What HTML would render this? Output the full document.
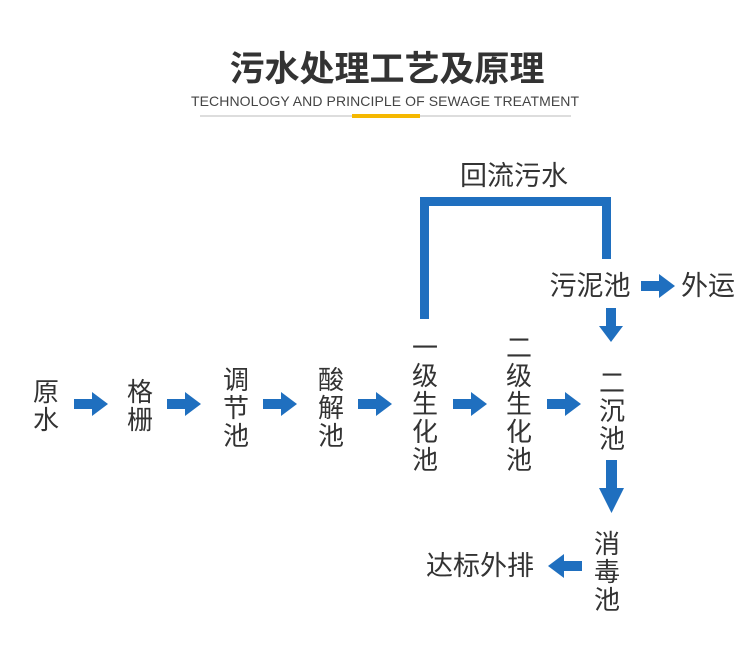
<!DOCTYPE html>
<html><head><meta charset="utf-8"><style>
body{margin:0;width:750px;height:664px;background:#fff;overflow:hidden;font-family:"Liberation Sans","Noto Sans CJK SC",sans-serif;}
</style></head><body>
<svg width="750" height="664" xmlns="http://www.w3.org/2000/svg" style="position:absolute;left:0;top:0">
<text x="387" y="81" text-anchor="middle" font-size="35" font-weight="bold" fill="#333" font-family="Noto Sans CJK SC,sans-serif">污水处理工艺及原理</text>
<text x="385" y="106" text-anchor="middle" font-size="14" fill="#444" font-family="Liberation Sans,sans-serif" textLength="388">TECHNOLOGY AND PRINCIPLE OF SEWAGE TREATMENT</text>
<rect x="200" y="115" width="371" height="2" fill="#ddd"/>
<rect x="352" y="114" width="68" height="4" fill="#f5b800"/>
<g fill="#1f6fbf">
<rect x="420" y="197" width="9" height="122"/>
<rect x="420" y="197" width="190" height="9"/>
<rect x="602" y="197" width="9" height="62"/>
</g>
<defs><polygon id="ar" points="0,-5 18,-5 18,-12 34,0 18,12 18,5 0,5"/></defs>
<g fill="#1f6fbf">
<use href="#ar" x="74" y="404"/>
<use href="#ar" x="167" y="404"/>
<use href="#ar" x="263" y="404"/>
<use href="#ar" x="358" y="404"/>
<use href="#ar" x="453" y="404"/>
<use href="#ar" x="547" y="404"/>
<use href="#ar" x="641" y="286"/>
<use href="#ar" transform="translate(582,566) scale(-1,1)"/>
<use href="#ar" transform="translate(611,308) rotate(90)"/>
<polygon points="606,460 617,460 617,488 624,488 611.5,513 599,488 606,488"/>
</g>
<g font-size="26" fill="#333" text-anchor="middle" font-family="Noto Sans CJK SC,sans-serif">
<text x="46" y="401">原</text><text x="46" y="429">水</text>
<text x="140" y="401">格</text><text x="140" y="429">栅</text>
<text x="236" y="389">调</text><text x="236" y="417">节</text><text x="236" y="445">池</text>
<text x="331" y="389">酸</text><text x="331" y="417">解</text><text x="331" y="445">池</text>
<text x="425" y="357">一</text><text x="425" y="385">级</text><text x="425" y="413">生</text><text x="425" y="441">化</text><text x="425" y="469">池</text>
<text x="519" y="357">二</text><text x="519" y="385">级</text><text x="519" y="413">生</text><text x="519" y="441">化</text><text x="519" y="469">池</text>
<text x="612" y="392">二</text><text x="612" y="420">沉</text><text x="612" y="448">池</text>
<text x="607" y="553">消</text><text x="607" y="581">毒</text><text x="607" y="609">池</text>
</g>
<g font-size="27" fill="#333" text-anchor="middle" font-family="Noto Sans CJK SC,sans-serif">
<text x="590" y="295">污泥池</text>
<text x="708" y="295">外运</text>
<text x="480" y="575">达标外排</text>
<text x="514" y="185">回流污水</text>
</g>
</svg>
</body></html>
